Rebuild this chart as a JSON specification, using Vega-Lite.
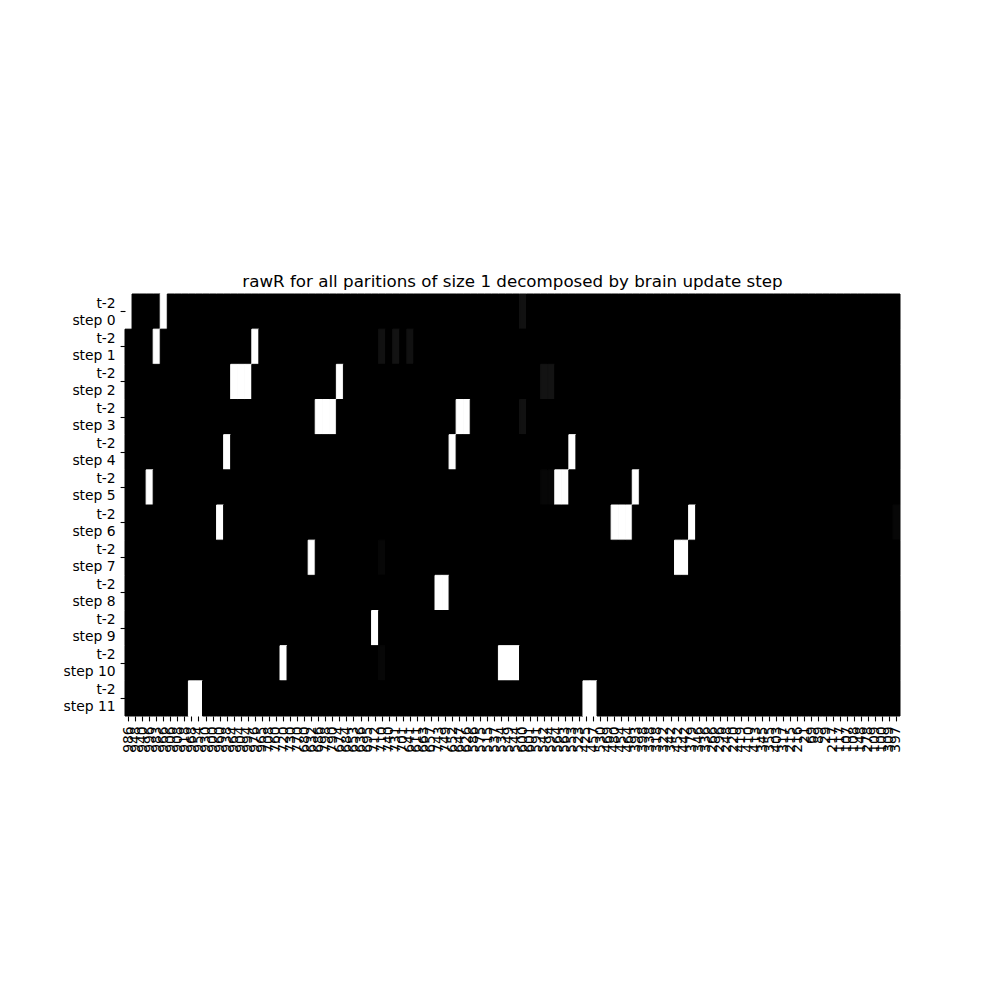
{
"$schema": "https://vega.github.io/schema/vega-lite/v6.json",
"autosize": {"type": "none"},
"padding": {"left": 125, "top": 294, "right": 100, "bottom": 284},
"width": 775,
"height": 422,
"background": "white",
"title": {"text": "rawR for all paritions of size 1 decomposed by brain update step", "font": "DejaVu Sans", "fontSize": 16.7, "fontWeight": "normal", "color": "black", "offset": 3, "anchor": "middle"},
"config": {"view": {"stroke": null, "fill": "black"}},
"data": {"values": [
{"c":"986","s":0,"v":1},{"c":"948","s":0,"v":0},{"c":"940","s":0,"v":0},{"c":"996","s":0,"v":0},{"c":"983","s":0,"v":0},{"c":"966","s":0,"v":1},{"c":"906","s":0,"v":0},{"c":"908","s":0,"v":0},{"c":"918","s":0,"v":0},{"c":"968","s":0,"v":0},
{"c":"954","s":0,"v":0},{"c":"930","s":0,"v":0},{"c":"900","s":0,"v":0},{"c":"960","s":0,"v":0},{"c":"938","s":0,"v":0},{"c":"964","s":0,"v":0},{"c":"904","s":0,"v":0},{"c":"994","s":0,"v":0},{"c":"976","s":0,"v":0},{"c":"965","s":0,"v":0},
{"c":"708","s":0,"v":0},{"c":"760","s":0,"v":0},{"c":"720","s":0,"v":0},{"c":"730","s":0,"v":0},{"c":"770","s":0,"v":0},{"c":"680","s":0,"v":0},{"c":"632","s":0,"v":0},{"c":"686","s":0,"v":0},{"c":"798","s":0,"v":0},{"c":"790","s":0,"v":0},
{"c":"674","s":0,"v":0},{"c":"684","s":0,"v":0},{"c":"653","s":0,"v":0},{"c":"636","s":0,"v":0},{"c":"695","s":0,"v":0},{"c":"712","s":0,"v":0},{"c":"710","s":0,"v":0},{"c":"740","s":0,"v":0},{"c":"731","s":0,"v":0},{"c":"701","s":0,"v":0},
{"c":"641","s":0,"v":0},{"c":"611","s":0,"v":0},{"c":"663","s":0,"v":0},{"c":"657","s":0,"v":0},{"c":"743","s":0,"v":0},{"c":"749","s":0,"v":0},{"c":"652","s":0,"v":0},{"c":"647","s":0,"v":0},{"c":"626","s":0,"v":0},{"c":"586","s":0,"v":0},
{"c":"575","s":0,"v":0},{"c":"515","s":0,"v":0},{"c":"537","s":0,"v":0},{"c":"534","s":0,"v":0},{"c":"549","s":0,"v":0},{"c":"544","s":0,"v":0},{"c":"600","s":0,"v":0.05},{"c":"601","s":0,"v":0},{"c":"591","s":0,"v":0},{"c":"542","s":0,"v":0},
{"c":"594","s":0,"v":0},{"c":"564","s":0,"v":0},{"c":"563","s":0,"v":0},{"c":"553","s":0,"v":0},{"c":"523","s":0,"v":0},{"c":"425","s":0,"v":0},{"c":"457","s":0,"v":0},{"c":"530","s":0,"v":0},{"c":"469","s":0,"v":0},{"c":"480","s":0,"v":0},
{"c":"454","s":0,"v":0},{"c":"464","s":0,"v":0},{"c":"393","s":0,"v":0},{"c":"398","s":0,"v":0},{"c":"338","s":0,"v":0},{"c":"318","s":0,"v":0},{"c":"322","s":0,"v":0},{"c":"342","s":0,"v":0},{"c":"452","s":0,"v":0},{"c":"442","s":0,"v":0},
{"c":"379","s":0,"v":0},{"c":"346","s":0,"v":0},{"c":"336","s":0,"v":0},{"c":"266","s":0,"v":0},{"c":"296","s":0,"v":0},{"c":"248","s":0,"v":0},{"c":"220","s":0,"v":0},{"c":"419","s":0,"v":0},{"c":"410","s":0,"v":0},{"c":"413","s":0,"v":0},
{"c":"345","s":0,"v":0},{"c":"355","s":0,"v":0},{"c":"403","s":0,"v":0},{"c":"317","s":0,"v":0},{"c":"215","s":0,"v":0},{"c":"216","s":0,"v":0},{"c":"21","s":0,"v":0},{"c":"69","s":0,"v":0},{"c":"89","s":0,"v":0},{"c":"29","s":0,"v":0},
{"c":"217","s":0,"v":0},{"c":"117","s":0,"v":0},{"c":"107","s":0,"v":0},{"c":"108","s":0,"v":0},{"c":"148","s":0,"v":0},{"c":"278","s":0,"v":0},{"c":"109","s":0,"v":0},{"c":"100","s":0,"v":0},{"c":"309","s":0,"v":0},{"c":"397","s":0,"v":0},

{"c":"986","s":1,"v":0},{"c":"948","s":1,"v":0},{"c":"940","s":1,"v":0},{"c":"996","s":1,"v":0},{"c":"983","s":1,"v":1},{"c":"966","s":1,"v":0},{"c":"906","s":1,"v":0},{"c":"908","s":1,"v":0},{"c":"918","s":1,"v":0},{"c":"968","s":1,"v":0},
{"c":"954","s":1,"v":0},{"c":"930","s":1,"v":0},{"c":"900","s":1,"v":0},{"c":"960","s":1,"v":0},{"c":"938","s":1,"v":0},{"c":"964","s":1,"v":0},{"c":"904","s":1,"v":0},{"c":"994","s":1,"v":0},{"c":"976","s":1,"v":1},{"c":"965","s":1,"v":0},
{"c":"708","s":1,"v":0},{"c":"760","s":1,"v":0},{"c":"720","s":1,"v":0},{"c":"730","s":1,"v":0},{"c":"770","s":1,"v":0},{"c":"680","s":1,"v":0},{"c":"632","s":1,"v":0},{"c":"686","s":1,"v":0},{"c":"798","s":1,"v":0},{"c":"790","s":1,"v":0},
{"c":"674","s":1,"v":0},{"c":"684","s":1,"v":0},{"c":"653","s":1,"v":0},{"c":"636","s":1,"v":0},{"c":"695","s":1,"v":0},{"c":"712","s":1,"v":0},{"c":"710","s":1,"v":0.05},{"c":"740","s":1,"v":0},{"c":"731","s":1,"v":0.06},{"c":"701","s":1,"v":0},
{"c":"641","s":1,"v":0.05},{"c":"611","s":1,"v":0},{"c":"663","s":1,"v":0},{"c":"657","s":1,"v":0},{"c":"743","s":1,"v":0},{"c":"749","s":1,"v":0},{"c":"652","s":1,"v":0},{"c":"647","s":1,"v":0},{"c":"626","s":1,"v":0},{"c":"586","s":1,"v":0},
{"c":"575","s":1,"v":0},{"c":"515","s":1,"v":0},{"c":"537","s":1,"v":0},{"c":"534","s":1,"v":0},{"c":"549","s":1,"v":0},{"c":"544","s":1,"v":0},{"c":"600","s":1,"v":0},{"c":"601","s":1,"v":0},{"c":"591","s":1,"v":0},{"c":"542","s":1,"v":0},
{"c":"594","s":1,"v":0},{"c":"564","s":1,"v":0},{"c":"563","s":1,"v":0},{"c":"553","s":1,"v":0},{"c":"523","s":1,"v":0},{"c":"425","s":1,"v":0},{"c":"457","s":1,"v":0},{"c":"530","s":1,"v":0},{"c":"469","s":1,"v":0},{"c":"480","s":1,"v":0},
{"c":"454","s":1,"v":0},{"c":"464","s":1,"v":0},{"c":"393","s":1,"v":0},{"c":"398","s":1,"v":0},{"c":"338","s":1,"v":0},{"c":"318","s":1,"v":0},{"c":"322","s":1,"v":0},{"c":"342","s":1,"v":0},{"c":"452","s":1,"v":0},{"c":"442","s":1,"v":0},
{"c":"379","s":1,"v":0},{"c":"346","s":1,"v":0},{"c":"336","s":1,"v":0},{"c":"266","s":1,"v":0},{"c":"296","s":1,"v":0},{"c":"248","s":1,"v":0},{"c":"220","s":1,"v":0},{"c":"419","s":1,"v":0},{"c":"410","s":1,"v":0},{"c":"413","s":1,"v":0},
{"c":"345","s":1,"v":0},{"c":"355","s":1,"v":0},{"c":"403","s":1,"v":0},{"c":"317","s":1,"v":0},{"c":"215","s":1,"v":0},{"c":"216","s":1,"v":0},{"c":"21","s":1,"v":0},{"c":"69","s":1,"v":0},{"c":"89","s":1,"v":0},{"c":"29","s":1,"v":0},
{"c":"217","s":1,"v":0},{"c":"117","s":1,"v":0},{"c":"107","s":1,"v":0},{"c":"108","s":1,"v":0},{"c":"148","s":1,"v":0},{"c":"278","s":1,"v":0},{"c":"109","s":1,"v":0},{"c":"100","s":1,"v":0},{"c":"309","s":1,"v":0},{"c":"397","s":1,"v":0},

{"c":"986","s":2,"v":0},{"c":"948","s":2,"v":0},{"c":"940","s":2,"v":0},{"c":"996","s":2,"v":0},{"c":"983","s":2,"v":0},{"c":"966","s":2,"v":0},{"c":"906","s":2,"v":0},{"c":"908","s":2,"v":0},{"c":"918","s":2,"v":0},{"c":"968","s":2,"v":0},
{"c":"954","s":2,"v":0},{"c":"930","s":2,"v":0},{"c":"900","s":2,"v":0},{"c":"960","s":2,"v":0},{"c":"938","s":2,"v":0},{"c":"964","s":2,"v":1},{"c":"904","s":2,"v":1},{"c":"994","s":2,"v":1},{"c":"976","s":2,"v":0},{"c":"965","s":2,"v":0},
{"c":"708","s":2,"v":0},{"c":"760","s":2,"v":0},{"c":"720","s":2,"v":0},{"c":"730","s":2,"v":0},{"c":"770","s":2,"v":0},{"c":"680","s":2,"v":0},{"c":"632","s":2,"v":0},{"c":"686","s":2,"v":0},{"c":"798","s":2,"v":0},{"c":"790","s":2,"v":0},
{"c":"674","s":2,"v":1},{"c":"684","s":2,"v":0},{"c":"653","s":2,"v":0},{"c":"636","s":2,"v":0},{"c":"695","s":2,"v":0},{"c":"712","s":2,"v":0},{"c":"710","s":2,"v":0},{"c":"740","s":2,"v":0},{"c":"731","s":2,"v":0},{"c":"701","s":2,"v":0},
{"c":"641","s":2,"v":0},{"c":"611","s":2,"v":0},{"c":"663","s":2,"v":0},{"c":"657","s":2,"v":0},{"c":"743","s":2,"v":0},{"c":"749","s":2,"v":0},{"c":"652","s":2,"v":0},{"c":"647","s":2,"v":0},{"c":"626","s":2,"v":0},{"c":"586","s":2,"v":0},
{"c":"575","s":2,"v":0},{"c":"515","s":2,"v":0},{"c":"537","s":2,"v":0},{"c":"534","s":2,"v":0},{"c":"549","s":2,"v":0},{"c":"544","s":2,"v":0},{"c":"600","s":2,"v":0},{"c":"601","s":2,"v":0},{"c":"591","s":2,"v":0},{"c":"542","s":2,"v":0.06},
{"c":"594","s":2,"v":0.06},{"c":"564","s":2,"v":0},{"c":"563","s":2,"v":0},{"c":"553","s":2,"v":0},{"c":"523","s":2,"v":0},{"c":"425","s":2,"v":0},{"c":"457","s":2,"v":0},{"c":"530","s":2,"v":0},{"c":"469","s":2,"v":0},{"c":"480","s":2,"v":0},
{"c":"454","s":2,"v":0},{"c":"464","s":2,"v":0},{"c":"393","s":2,"v":0},{"c":"398","s":2,"v":0},{"c":"338","s":2,"v":0},{"c":"318","s":2,"v":0},{"c":"322","s":2,"v":0},{"c":"342","s":2,"v":0},{"c":"452","s":2,"v":0},{"c":"442","s":2,"v":0},
{"c":"379","s":2,"v":0},{"c":"346","s":2,"v":0},{"c":"336","s":2,"v":0},{"c":"266","s":2,"v":0},{"c":"296","s":2,"v":0},{"c":"248","s":2,"v":0},{"c":"220","s":2,"v":0},{"c":"419","s":2,"v":0},{"c":"410","s":2,"v":0},{"c":"413","s":2,"v":0},
{"c":"345","s":2,"v":0},{"c":"355","s":2,"v":0},{"c":"403","s":2,"v":0},{"c":"317","s":2,"v":0},{"c":"215","s":2,"v":0},{"c":"216","s":2,"v":0},{"c":"21","s":2,"v":0},{"c":"69","s":2,"v":0},{"c":"89","s":2,"v":0},{"c":"29","s":2,"v":0},
{"c":"217","s":2,"v":0},{"c":"117","s":2,"v":0},{"c":"107","s":2,"v":0},{"c":"108","s":2,"v":0},{"c":"148","s":2,"v":0},{"c":"278","s":2,"v":0},{"c":"109","s":2,"v":0},{"c":"100","s":2,"v":0},{"c":"309","s":2,"v":0},{"c":"397","s":2,"v":0},

{"c":"986","s":3,"v":0},{"c":"948","s":3,"v":0},{"c":"940","s":3,"v":0},{"c":"996","s":3,"v":0},{"c":"983","s":3,"v":0},{"c":"966","s":3,"v":0},{"c":"906","s":3,"v":0},{"c":"908","s":3,"v":0},{"c":"918","s":3,"v":0},{"c":"968","s":3,"v":0},
{"c":"954","s":3,"v":0},{"c":"930","s":3,"v":0},{"c":"900","s":3,"v":0},{"c":"960","s":3,"v":0},{"c":"938","s":3,"v":0},{"c":"964","s":3,"v":0},{"c":"904","s":3,"v":0},{"c":"994","s":3,"v":0},{"c":"976","s":3,"v":0},{"c":"965","s":3,"v":0},
{"c":"708","s":3,"v":0},{"c":"760","s":3,"v":0},{"c":"720","s":3,"v":0},{"c":"730","s":3,"v":0},{"c":"770","s":3,"v":0},{"c":"680","s":3,"v":0},{"c":"632","s":3,"v":0},{"c":"686","s":3,"v":1},{"c":"798","s":3,"v":1},{"c":"790","s":3,"v":1},
{"c":"674","s":3,"v":0},{"c":"684","s":3,"v":0},{"c":"653","s":3,"v":0},{"c":"636","s":3,"v":0},{"c":"695","s":3,"v":0},{"c":"712","s":3,"v":0},{"c":"710","s":3,"v":0},{"c":"740","s":3,"v":0},{"c":"731","s":3,"v":0},{"c":"701","s":3,"v":0},
{"c":"641","s":3,"v":0},{"c":"611","s":3,"v":0},{"c":"663","s":3,"v":0},{"c":"657","s":3,"v":0},{"c":"743","s":3,"v":0},{"c":"749","s":3,"v":0},{"c":"652","s":3,"v":0},{"c":"647","s":3,"v":1},{"c":"626","s":3,"v":1},{"c":"586","s":3,"v":0},
{"c":"575","s":3,"v":0},{"c":"515","s":3,"v":0},{"c":"537","s":3,"v":0},{"c":"534","s":3,"v":0},{"c":"549","s":3,"v":0},{"c":"544","s":3,"v":0},{"c":"600","s":3,"v":0.05},{"c":"601","s":3,"v":0},{"c":"591","s":3,"v":0},{"c":"542","s":3,"v":0},
{"c":"594","s":3,"v":0},{"c":"564","s":3,"v":0},{"c":"563","s":3,"v":0},{"c":"553","s":3,"v":0},{"c":"523","s":3,"v":0},{"c":"425","s":3,"v":0},{"c":"457","s":3,"v":0},{"c":"530","s":3,"v":0},{"c":"469","s":3,"v":0},{"c":"480","s":3,"v":0},
{"c":"454","s":3,"v":0},{"c":"464","s":3,"v":0},{"c":"393","s":3,"v":0},{"c":"398","s":3,"v":0},{"c":"338","s":3,"v":0},{"c":"318","s":3,"v":0},{"c":"322","s":3,"v":0},{"c":"342","s":3,"v":0},{"c":"452","s":3,"v":0},{"c":"442","s":3,"v":0},
{"c":"379","s":3,"v":0},{"c":"346","s":3,"v":0},{"c":"336","s":3,"v":0},{"c":"266","s":3,"v":0},{"c":"296","s":3,"v":0},{"c":"248","s":3,"v":0},{"c":"220","s":3,"v":0},{"c":"419","s":3,"v":0},{"c":"410","s":3,"v":0},{"c":"413","s":3,"v":0},
{"c":"345","s":3,"v":0},{"c":"355","s":3,"v":0},{"c":"403","s":3,"v":0},{"c":"317","s":3,"v":0},{"c":"215","s":3,"v":0},{"c":"216","s":3,"v":0},{"c":"21","s":3,"v":0},{"c":"69","s":3,"v":0},{"c":"89","s":3,"v":0},{"c":"29","s":3,"v":0},
{"c":"217","s":3,"v":0},{"c":"117","s":3,"v":0},{"c":"107","s":3,"v":0},{"c":"108","s":3,"v":0},{"c":"148","s":3,"v":0},{"c":"278","s":3,"v":0},{"c":"109","s":3,"v":0},{"c":"100","s":3,"v":0},{"c":"309","s":3,"v":0},{"c":"397","s":3,"v":0},

{"c":"986","s":4,"v":0},{"c":"948","s":4,"v":0},{"c":"940","s":4,"v":0},{"c":"996","s":4,"v":0},{"c":"983","s":4,"v":0},{"c":"966","s":4,"v":0},{"c":"906","s":4,"v":0},{"c":"908","s":4,"v":0},{"c":"918","s":4,"v":0},{"c":"968","s":4,"v":0},
{"c":"954","s":4,"v":0},{"c":"930","s":4,"v":0},{"c":"900","s":4,"v":0},{"c":"960","s":4,"v":0},{"c":"938","s":4,"v":1},{"c":"964","s":4,"v":0},{"c":"904","s":4,"v":0},{"c":"994","s":4,"v":0},{"c":"976","s":4,"v":0},{"c":"965","s":4,"v":0},
{"c":"708","s":4,"v":0},{"c":"760","s":4,"v":0},{"c":"720","s":4,"v":0},{"c":"730","s":4,"v":0},{"c":"770","s":4,"v":0},{"c":"680","s":4,"v":0},{"c":"632","s":4,"v":0},{"c":"686","s":4,"v":0},{"c":"798","s":4,"v":0},{"c":"790","s":4,"v":0},
{"c":"674","s":4,"v":0},{"c":"684","s":4,"v":0},{"c":"653","s":4,"v":0},{"c":"636","s":4,"v":0},{"c":"695","s":4,"v":0},{"c":"712","s":4,"v":0},{"c":"710","s":4,"v":0},{"c":"740","s":4,"v":0},{"c":"731","s":4,"v":0},{"c":"701","s":4,"v":0},
{"c":"641","s":4,"v":0},{"c":"611","s":4,"v":0},{"c":"663","s":4,"v":0},{"c":"657","s":4,"v":0},{"c":"743","s":4,"v":0},{"c":"749","s":4,"v":0},{"c":"652","s":4,"v":1},{"c":"647","s":4,"v":0},{"c":"626","s":4,"v":0},{"c":"586","s":4,"v":0},
{"c":"575","s":4,"v":0},{"c":"515","s":4,"v":0},{"c":"537","s":4,"v":0},{"c":"534","s":4,"v":0},{"c":"549","s":4,"v":0},{"c":"544","s":4,"v":0},{"c":"600","s":4,"v":0},{"c":"601","s":4,"v":0},{"c":"591","s":4,"v":0},{"c":"542","s":4,"v":0},
{"c":"594","s":4,"v":0},{"c":"564","s":4,"v":0},{"c":"563","s":4,"v":0},{"c":"553","s":4,"v":1},{"c":"523","s":4,"v":0},{"c":"425","s":4,"v":0},{"c":"457","s":4,"v":0},{"c":"530","s":4,"v":0},{"c":"469","s":4,"v":0},{"c":"480","s":4,"v":0},
{"c":"454","s":4,"v":0},{"c":"464","s":4,"v":0},{"c":"393","s":4,"v":0},{"c":"398","s":4,"v":0},{"c":"338","s":4,"v":0},{"c":"318","s":4,"v":0},{"c":"322","s":4,"v":0},{"c":"342","s":4,"v":0},{"c":"452","s":4,"v":0},{"c":"442","s":4,"v":0},
{"c":"379","s":4,"v":0},{"c":"346","s":4,"v":0},{"c":"336","s":4,"v":0},{"c":"266","s":4,"v":0},{"c":"296","s":4,"v":0},{"c":"248","s":4,"v":0},{"c":"220","s":4,"v":0},{"c":"419","s":4,"v":0},{"c":"410","s":4,"v":0},{"c":"413","s":4,"v":0},
{"c":"345","s":4,"v":0},{"c":"355","s":4,"v":0},{"c":"403","s":4,"v":0},{"c":"317","s":4,"v":0},{"c":"215","s":4,"v":0},{"c":"216","s":4,"v":0},{"c":"21","s":4,"v":0},{"c":"69","s":4,"v":0},{"c":"89","s":4,"v":0},{"c":"29","s":4,"v":0},
{"c":"217","s":4,"v":0},{"c":"117","s":4,"v":0},{"c":"107","s":4,"v":0},{"c":"108","s":4,"v":0},{"c":"148","s":4,"v":0},{"c":"278","s":4,"v":0},{"c":"109","s":4,"v":0},{"c":"100","s":4,"v":0},{"c":"309","s":4,"v":0},{"c":"397","s":4,"v":0},

{"c":"986","s":5,"v":0},{"c":"948","s":5,"v":0},{"c":"940","s":5,"v":0},{"c":"996","s":5,"v":1},{"c":"983","s":5,"v":0},{"c":"966","s":5,"v":0},{"c":"906","s":5,"v":0},{"c":"908","s":5,"v":0},{"c":"918","s":5,"v":0},{"c":"968","s":5,"v":0},
{"c":"954","s":5,"v":0},{"c":"930","s":5,"v":0},{"c":"900","s":5,"v":0},{"c":"960","s":5,"v":0},{"c":"938","s":5,"v":0},{"c":"964","s":5,"v":0},{"c":"904","s":5,"v":0},{"c":"994","s":5,"v":0},{"c":"976","s":5,"v":0},{"c":"965","s":5,"v":0},
{"c":"708","s":5,"v":0},{"c":"760","s":5,"v":0},{"c":"720","s":5,"v":0},{"c":"730","s":5,"v":0},{"c":"770","s":5,"v":0},{"c":"680","s":5,"v":0},{"c":"632","s":5,"v":0},{"c":"686","s":5,"v":0},{"c":"798","s":5,"v":0},{"c":"790","s":5,"v":0},
{"c":"674","s":5,"v":0},{"c":"684","s":5,"v":0},{"c":"653","s":5,"v":0},{"c":"636","s":5,"v":0},{"c":"695","s":5,"v":0},{"c":"712","s":5,"v":0},{"c":"710","s":5,"v":0},{"c":"740","s":5,"v":0},{"c":"731","s":5,"v":0},{"c":"701","s":5,"v":0},
{"c":"641","s":5,"v":0},{"c":"611","s":5,"v":0},{"c":"663","s":5,"v":0},{"c":"657","s":5,"v":0},{"c":"743","s":5,"v":0},{"c":"749","s":5,"v":0},{"c":"652","s":5,"v":0},{"c":"647","s":5,"v":0},{"c":"626","s":5,"v":0},{"c":"586","s":5,"v":0},
{"c":"575","s":5,"v":0},{"c":"515","s":5,"v":0},{"c":"537","s":5,"v":0},{"c":"534","s":5,"v":0},{"c":"549","s":5,"v":0},{"c":"544","s":5,"v":0},{"c":"600","s":5,"v":0},{"c":"601","s":5,"v":0},{"c":"591","s":5,"v":0},{"c":"542","s":5,"v":0.02},
{"c":"594","s":5,"v":0.02},{"c":"564","s":5,"v":1},{"c":"563","s":5,"v":1},{"c":"553","s":5,"v":0},{"c":"523","s":5,"v":0},{"c":"425","s":5,"v":0},{"c":"457","s":5,"v":0},{"c":"530","s":5,"v":0},{"c":"469","s":5,"v":0},{"c":"480","s":5,"v":0},
{"c":"454","s":5,"v":0},{"c":"464","s":5,"v":0},{"c":"393","s":5,"v":1},{"c":"398","s":5,"v":0},{"c":"338","s":5,"v":0},{"c":"318","s":5,"v":0},{"c":"322","s":5,"v":0},{"c":"342","s":5,"v":0},{"c":"452","s":5,"v":0},{"c":"442","s":5,"v":0},
{"c":"379","s":5,"v":0},{"c":"346","s":5,"v":0},{"c":"336","s":5,"v":0},{"c":"266","s":5,"v":0},{"c":"296","s":5,"v":0},{"c":"248","s":5,"v":0},{"c":"220","s":5,"v":0},{"c":"419","s":5,"v":0},{"c":"410","s":5,"v":0},{"c":"413","s":5,"v":0},
{"c":"345","s":5,"v":0},{"c":"355","s":5,"v":0},{"c":"403","s":5,"v":0},{"c":"317","s":5,"v":0},{"c":"215","s":5,"v":0},{"c":"216","s":5,"v":0},{"c":"21","s":5,"v":0},{"c":"69","s":5,"v":0},{"c":"89","s":5,"v":0},{"c":"29","s":5,"v":0},
{"c":"217","s":5,"v":0},{"c":"117","s":5,"v":0},{"c":"107","s":5,"v":0},{"c":"108","s":5,"v":0},{"c":"148","s":5,"v":0},{"c":"278","s":5,"v":0},{"c":"109","s":5,"v":0},{"c":"100","s":5,"v":0},{"c":"309","s":5,"v":0},{"c":"397","s":5,"v":0},

{"c":"986","s":6,"v":0},{"c":"948","s":6,"v":0},{"c":"940","s":6,"v":0},{"c":"996","s":6,"v":0},{"c":"983","s":6,"v":0},{"c":"966","s":6,"v":0},{"c":"906","s":6,"v":0},{"c":"908","s":6,"v":0},{"c":"918","s":6,"v":0},{"c":"968","s":6,"v":0},
{"c":"954","s":6,"v":0},{"c":"930","s":6,"v":0},{"c":"900","s":6,"v":0},{"c":"960","s":6,"v":1},{"c":"938","s":6,"v":0},{"c":"964","s":6,"v":0},{"c":"904","s":6,"v":0},{"c":"994","s":6,"v":0},{"c":"976","s":6,"v":0},{"c":"965","s":6,"v":0},
{"c":"708","s":6,"v":0},{"c":"760","s":6,"v":0},{"c":"720","s":6,"v":0},{"c":"730","s":6,"v":0},{"c":"770","s":6,"v":0},{"c":"680","s":6,"v":0},{"c":"632","s":6,"v":0},{"c":"686","s":6,"v":0},{"c":"798","s":6,"v":0},{"c":"790","s":6,"v":0},
{"c":"674","s":6,"v":0},{"c":"684","s":6,"v":0},{"c":"653","s":6,"v":0},{"c":"636","s":6,"v":0},{"c":"695","s":6,"v":0},{"c":"712","s":6,"v":0},{"c":"710","s":6,"v":0},{"c":"740","s":6,"v":0},{"c":"731","s":6,"v":0},{"c":"701","s":6,"v":0},
{"c":"641","s":6,"v":0},{"c":"611","s":6,"v":0},{"c":"663","s":6,"v":0},{"c":"657","s":6,"v":0},{"c":"743","s":6,"v":0},{"c":"749","s":6,"v":0},{"c":"652","s":6,"v":0},{"c":"647","s":6,"v":0},{"c":"626","s":6,"v":0},{"c":"586","s":6,"v":0},
{"c":"575","s":6,"v":0},{"c":"515","s":6,"v":0},{"c":"537","s":6,"v":0},{"c":"534","s":6,"v":0},{"c":"549","s":6,"v":0},{"c":"544","s":6,"v":0},{"c":"600","s":6,"v":0},{"c":"601","s":6,"v":0},{"c":"591","s":6,"v":0},{"c":"542","s":6,"v":0},
{"c":"594","s":6,"v":0},{"c":"564","s":6,"v":0},{"c":"563","s":6,"v":0},{"c":"553","s":6,"v":0},{"c":"523","s":6,"v":0},{"c":"425","s":6,"v":0},{"c":"457","s":6,"v":0},{"c":"530","s":6,"v":0},{"c":"469","s":6,"v":0},{"c":"480","s":6,"v":1},
{"c":"454","s":6,"v":1},{"c":"464","s":6,"v":1},{"c":"393","s":6,"v":0},{"c":"398","s":6,"v":0},{"c":"338","s":6,"v":0},{"c":"318","s":6,"v":0},{"c":"322","s":6,"v":0},{"c":"342","s":6,"v":0},{"c":"452","s":6,"v":0},{"c":"442","s":6,"v":0},
{"c":"379","s":6,"v":1},{"c":"346","s":6,"v":0},{"c":"336","s":6,"v":0},{"c":"266","s":6,"v":0},{"c":"296","s":6,"v":0},{"c":"248","s":6,"v":0},{"c":"220","s":6,"v":0},{"c":"419","s":6,"v":0},{"c":"410","s":6,"v":0},{"c":"413","s":6,"v":0},
{"c":"345","s":6,"v":0},{"c":"355","s":6,"v":0},{"c":"403","s":6,"v":0},{"c":"317","s":6,"v":0},{"c":"215","s":6,"v":0},{"c":"216","s":6,"v":0},{"c":"21","s":6,"v":0},{"c":"69","s":6,"v":0},{"c":"89","s":6,"v":0},{"c":"29","s":6,"v":0},
{"c":"217","s":6,"v":0},{"c":"117","s":6,"v":0},{"c":"107","s":6,"v":0},{"c":"108","s":6,"v":0},{"c":"148","s":6,"v":0},{"c":"278","s":6,"v":0},{"c":"109","s":6,"v":0},{"c":"100","s":6,"v":0},{"c":"309","s":6,"v":0},{"c":"397","s":6,"v":0.02},

{"c":"986","s":7,"v":0},{"c":"948","s":7,"v":0},{"c":"940","s":7,"v":0},{"c":"996","s":7,"v":0},{"c":"983","s":7,"v":0},{"c":"966","s":7,"v":0},{"c":"906","s":7,"v":0},{"c":"908","s":7,"v":0},{"c":"918","s":7,"v":0},{"c":"968","s":7,"v":0},
{"c":"954","s":7,"v":0},{"c":"930","s":7,"v":0},{"c":"900","s":7,"v":0},{"c":"960","s":7,"v":0},{"c":"938","s":7,"v":0},{"c":"964","s":7,"v":0},{"c":"904","s":7,"v":0},{"c":"994","s":7,"v":0},{"c":"976","s":7,"v":0},{"c":"965","s":7,"v":0},
{"c":"708","s":7,"v":0},{"c":"760","s":7,"v":0},{"c":"720","s":7,"v":0},{"c":"730","s":7,"v":0},{"c":"770","s":7,"v":0},{"c":"680","s":7,"v":0},{"c":"632","s":7,"v":1},{"c":"686","s":7,"v":0},{"c":"798","s":7,"v":0},{"c":"790","s":7,"v":0},
{"c":"674","s":7,"v":0},{"c":"684","s":7,"v":0},{"c":"653","s":7,"v":0},{"c":"636","s":7,"v":0},{"c":"695","s":7,"v":0},{"c":"712","s":7,"v":0},{"c":"710","s":7,"v":0.02},{"c":"740","s":7,"v":0},{"c":"731","s":7,"v":0},{"c":"701","s":7,"v":0},
{"c":"641","s":7,"v":0},{"c":"611","s":7,"v":0},{"c":"663","s":7,"v":0},{"c":"657","s":7,"v":0},{"c":"743","s":7,"v":0},{"c":"749","s":7,"v":0},{"c":"652","s":7,"v":0},{"c":"647","s":7,"v":0},{"c":"626","s":7,"v":0},{"c":"586","s":7,"v":0},
{"c":"575","s":7,"v":0},{"c":"515","s":7,"v":0},{"c":"537","s":7,"v":0},{"c":"534","s":7,"v":0},{"c":"549","s":7,"v":0},{"c":"544","s":7,"v":0},{"c":"600","s":7,"v":0},{"c":"601","s":7,"v":0},{"c":"591","s":7,"v":0},{"c":"542","s":7,"v":0},
{"c":"594","s":7,"v":0},{"c":"564","s":7,"v":0},{"c":"563","s":7,"v":0},{"c":"553","s":7,"v":0},{"c":"523","s":7,"v":0},{"c":"425","s":7,"v":0},{"c":"457","s":7,"v":0},{"c":"530","s":7,"v":0},{"c":"469","s":7,"v":0},{"c":"480","s":7,"v":0},
{"c":"454","s":7,"v":0},{"c":"464","s":7,"v":0},{"c":"393","s":7,"v":0},{"c":"398","s":7,"v":0},{"c":"338","s":7,"v":0},{"c":"318","s":7,"v":0},{"c":"322","s":7,"v":0},{"c":"342","s":7,"v":0},{"c":"452","s":7,"v":1},{"c":"442","s":7,"v":1},
{"c":"379","s":7,"v":0},{"c":"346","s":7,"v":0},{"c":"336","s":7,"v":0},{"c":"266","s":7,"v":0},{"c":"296","s":7,"v":0},{"c":"248","s":7,"v":0},{"c":"220","s":7,"v":0},{"c":"419","s":7,"v":0},{"c":"410","s":7,"v":0},{"c":"413","s":7,"v":0},
{"c":"345","s":7,"v":0},{"c":"355","s":7,"v":0},{"c":"403","s":7,"v":0},{"c":"317","s":7,"v":0},{"c":"215","s":7,"v":0},{"c":"216","s":7,"v":0},{"c":"21","s":7,"v":0},{"c":"69","s":7,"v":0},{"c":"89","s":7,"v":0},{"c":"29","s":7,"v":0},
{"c":"217","s":7,"v":0},{"c":"117","s":7,"v":0},{"c":"107","s":7,"v":0},{"c":"108","s":7,"v":0},{"c":"148","s":7,"v":0},{"c":"278","s":7,"v":0},{"c":"109","s":7,"v":0},{"c":"100","s":7,"v":0},{"c":"309","s":7,"v":0},{"c":"397","s":7,"v":0},

{"c":"986","s":8,"v":0},{"c":"948","s":8,"v":0},{"c":"940","s":8,"v":0},{"c":"996","s":8,"v":0},{"c":"983","s":8,"v":0},{"c":"966","s":8,"v":0},{"c":"906","s":8,"v":0},{"c":"908","s":8,"v":0},{"c":"918","s":8,"v":0},{"c":"968","s":8,"v":0},
{"c":"954","s":8,"v":0},{"c":"930","s":8,"v":0},{"c":"900","s":8,"v":0},{"c":"960","s":8,"v":0},{"c":"938","s":8,"v":0},{"c":"964","s":8,"v":0},{"c":"904","s":8,"v":0},{"c":"994","s":8,"v":0},{"c":"976","s":8,"v":0},{"c":"965","s":8,"v":0},
{"c":"708","s":8,"v":0},{"c":"760","s":8,"v":0},{"c":"720","s":8,"v":0},{"c":"730","s":8,"v":0},{"c":"770","s":8,"v":0},{"c":"680","s":8,"v":0},{"c":"632","s":8,"v":0},{"c":"686","s":8,"v":0},{"c":"798","s":8,"v":0},{"c":"790","s":8,"v":0},
{"c":"674","s":8,"v":0},{"c":"684","s":8,"v":0},{"c":"653","s":8,"v":0},{"c":"636","s":8,"v":0},{"c":"695","s":8,"v":0},{"c":"712","s":8,"v":0},{"c":"710","s":8,"v":0},{"c":"740","s":8,"v":0},{"c":"731","s":8,"v":0},{"c":"701","s":8,"v":0},
{"c":"641","s":8,"v":0},{"c":"611","s":8,"v":0},{"c":"663","s":8,"v":0},{"c":"657","s":8,"v":0},{"c":"743","s":8,"v":1},{"c":"749","s":8,"v":1},{"c":"652","s":8,"v":0},{"c":"647","s":8,"v":0},{"c":"626","s":8,"v":0},{"c":"586","s":8,"v":0},
{"c":"575","s":8,"v":0},{"c":"515","s":8,"v":0},{"c":"537","s":8,"v":0},{"c":"534","s":8,"v":0},{"c":"549","s":8,"v":0},{"c":"544","s":8,"v":0},{"c":"600","s":8,"v":0},{"c":"601","s":8,"v":0},{"c":"591","s":8,"v":0},{"c":"542","s":8,"v":0},
{"c":"594","s":8,"v":0},{"c":"564","s":8,"v":0},{"c":"563","s":8,"v":0},{"c":"553","s":8,"v":0},{"c":"523","s":8,"v":0},{"c":"425","s":8,"v":0},{"c":"457","s":8,"v":0},{"c":"530","s":8,"v":0},{"c":"469","s":8,"v":0},{"c":"480","s":8,"v":0},
{"c":"454","s":8,"v":0},{"c":"464","s":8,"v":0},{"c":"393","s":8,"v":0},{"c":"398","s":8,"v":0},{"c":"338","s":8,"v":0},{"c":"318","s":8,"v":0},{"c":"322","s":8,"v":0},{"c":"342","s":8,"v":0},{"c":"452","s":8,"v":0},{"c":"442","s":8,"v":0},
{"c":"379","s":8,"v":0},{"c":"346","s":8,"v":0},{"c":"336","s":8,"v":0},{"c":"266","s":8,"v":0},{"c":"296","s":8,"v":0},{"c":"248","s":8,"v":0},{"c":"220","s":8,"v":0},{"c":"419","s":8,"v":0},{"c":"410","s":8,"v":0},{"c":"413","s":8,"v":0},
{"c":"345","s":8,"v":0},{"c":"355","s":8,"v":0},{"c":"403","s":8,"v":0},{"c":"317","s":8,"v":0},{"c":"215","s":8,"v":0},{"c":"216","s":8,"v":0},{"c":"21","s":8,"v":0},{"c":"69","s":8,"v":0},{"c":"89","s":8,"v":0},{"c":"29","s":8,"v":0},
{"c":"217","s":8,"v":0},{"c":"117","s":8,"v":0},{"c":"107","s":8,"v":0},{"c":"108","s":8,"v":0},{"c":"148","s":8,"v":0},{"c":"278","s":8,"v":0},{"c":"109","s":8,"v":0},{"c":"100","s":8,"v":0},{"c":"309","s":8,"v":0},{"c":"397","s":8,"v":0},

{"c":"986","s":9,"v":0},{"c":"948","s":9,"v":0},{"c":"940","s":9,"v":0},{"c":"996","s":9,"v":0},{"c":"983","s":9,"v":0},{"c":"966","s":9,"v":0},{"c":"906","s":9,"v":0},{"c":"908","s":9,"v":0},{"c":"918","s":9,"v":0},{"c":"968","s":9,"v":0},
{"c":"954","s":9,"v":0},{"c":"930","s":9,"v":0},{"c":"900","s":9,"v":0},{"c":"960","s":9,"v":0},{"c":"938","s":9,"v":0},{"c":"964","s":9,"v":0},{"c":"904","s":9,"v":0},{"c":"994","s":9,"v":0},{"c":"976","s":9,"v":0},{"c":"965","s":9,"v":0},
{"c":"708","s":9,"v":0},{"c":"760","s":9,"v":0},{"c":"720","s":9,"v":0},{"c":"730","s":9,"v":0},{"c":"770","s":9,"v":0},{"c":"680","s":9,"v":0},{"c":"632","s":9,"v":0},{"c":"686","s":9,"v":0},{"c":"798","s":9,"v":0},{"c":"790","s":9,"v":0},
{"c":"674","s":9,"v":0},{"c":"684","s":9,"v":0},{"c":"653","s":9,"v":0},{"c":"636","s":9,"v":0},{"c":"695","s":9,"v":0},{"c":"712","s":9,"v":1},{"c":"710","s":9,"v":0},{"c":"740","s":9,"v":0},{"c":"731","s":9,"v":0},{"c":"701","s":9,"v":0},
{"c":"641","s":9,"v":0},{"c":"611","s":9,"v":0},{"c":"663","s":9,"v":0},{"c":"657","s":9,"v":0},{"c":"743","s":9,"v":0},{"c":"749","s":9,"v":0},{"c":"652","s":9,"v":0},{"c":"647","s":9,"v":0},{"c":"626","s":9,"v":0},{"c":"586","s":9,"v":0},
{"c":"575","s":9,"v":0},{"c":"515","s":9,"v":0},{"c":"537","s":9,"v":0},{"c":"534","s":9,"v":0},{"c":"549","s":9,"v":0},{"c":"544","s":9,"v":0},{"c":"600","s":9,"v":0},{"c":"601","s":9,"v":0},{"c":"591","s":9,"v":0},{"c":"542","s":9,"v":0},
{"c":"594","s":9,"v":0},{"c":"564","s":9,"v":0},{"c":"563","s":9,"v":0},{"c":"553","s":9,"v":0},{"c":"523","s":9,"v":0},{"c":"425","s":9,"v":0},{"c":"457","s":9,"v":0},{"c":"530","s":9,"v":0},{"c":"469","s":9,"v":0},{"c":"480","s":9,"v":0},
{"c":"454","s":9,"v":0},{"c":"464","s":9,"v":0},{"c":"393","s":9,"v":0},{"c":"398","s":9,"v":0},{"c":"338","s":9,"v":0},{"c":"318","s":9,"v":0},{"c":"322","s":9,"v":0},{"c":"342","s":9,"v":0},{"c":"452","s":9,"v":0},{"c":"442","s":9,"v":0},
{"c":"379","s":9,"v":0},{"c":"346","s":9,"v":0},{"c":"336","s":9,"v":0},{"c":"266","s":9,"v":0},{"c":"296","s":9,"v":0},{"c":"248","s":9,"v":0},{"c":"220","s":9,"v":0},{"c":"419","s":9,"v":0},{"c":"410","s":9,"v":0},{"c":"413","s":9,"v":0},
{"c":"345","s":9,"v":0},{"c":"355","s":9,"v":0},{"c":"403","s":9,"v":0},{"c":"317","s":9,"v":0},{"c":"215","s":9,"v":0},{"c":"216","s":9,"v":0},{"c":"21","s":9,"v":0},{"c":"69","s":9,"v":0},{"c":"89","s":9,"v":0},{"c":"29","s":9,"v":0},
{"c":"217","s":9,"v":0},{"c":"117","s":9,"v":0},{"c":"107","s":9,"v":0},{"c":"108","s":9,"v":0},{"c":"148","s":9,"v":0},{"c":"278","s":9,"v":0},{"c":"109","s":9,"v":0},{"c":"100","s":9,"v":0},{"c":"309","s":9,"v":0},{"c":"397","s":9,"v":0},

{"c":"986","s":10,"v":0},{"c":"948","s":10,"v":0},{"c":"940","s":10,"v":0},{"c":"996","s":10,"v":0},{"c":"983","s":10,"v":0},{"c":"966","s":10,"v":0},{"c":"906","s":10,"v":0},{"c":"908","s":10,"v":0},{"c":"918","s":10,"v":0},{"c":"968","s":10,"v":0},
{"c":"954","s":10,"v":0},{"c":"930","s":10,"v":0},{"c":"900","s":10,"v":0},{"c":"960","s":10,"v":0},{"c":"938","s":10,"v":0},{"c":"964","s":10,"v":0},{"c":"904","s":10,"v":0},{"c":"994","s":10,"v":0},{"c":"976","s":10,"v":0},{"c":"965","s":10,"v":0},
{"c":"708","s":10,"v":0},{"c":"760","s":10,"v":0},{"c":"720","s":10,"v":1},{"c":"730","s":10,"v":0},{"c":"770","s":10,"v":0},{"c":"680","s":10,"v":0},{"c":"632","s":10,"v":0},{"c":"686","s":10,"v":0},{"c":"798","s":10,"v":0},{"c":"790","s":10,"v":0},
{"c":"674","s":10,"v":0},{"c":"684","s":10,"v":0},{"c":"653","s":10,"v":0},{"c":"636","s":10,"v":0},{"c":"695","s":10,"v":0},{"c":"712","s":10,"v":0},{"c":"710","s":10,"v":0.02},{"c":"740","s":10,"v":0},{"c":"731","s":10,"v":0},{"c":"701","s":10,"v":0},
{"c":"641","s":10,"v":0},{"c":"611","s":10,"v":0},{"c":"663","s":10,"v":0},{"c":"657","s":10,"v":0},{"c":"743","s":10,"v":0},{"c":"749","s":10,"v":0},{"c":"652","s":10,"v":0},{"c":"647","s":10,"v":0},{"c":"626","s":10,"v":0},{"c":"586","s":10,"v":0},
{"c":"575","s":10,"v":0},{"c":"515","s":10,"v":0},{"c":"537","s":10,"v":0},{"c":"534","s":10,"v":1},{"c":"549","s":10,"v":1},{"c":"544","s":10,"v":1},{"c":"600","s":10,"v":0},{"c":"601","s":10,"v":0},{"c":"591","s":10,"v":0},{"c":"542","s":10,"v":0},
{"c":"594","s":10,"v":0},{"c":"564","s":10,"v":0},{"c":"563","s":10,"v":0},{"c":"553","s":10,"v":0},{"c":"523","s":10,"v":0},{"c":"425","s":10,"v":0},{"c":"457","s":10,"v":0},{"c":"530","s":10,"v":0},{"c":"469","s":10,"v":0},{"c":"480","s":10,"v":0},
{"c":"454","s":10,"v":0},{"c":"464","s":10,"v":0},{"c":"393","s":10,"v":0},{"c":"398","s":10,"v":0},{"c":"338","s":10,"v":0},{"c":"318","s":10,"v":0},{"c":"322","s":10,"v":0},{"c":"342","s":10,"v":0},{"c":"452","s":10,"v":0},{"c":"442","s":10,"v":0},
{"c":"379","s":10,"v":0},{"c":"346","s":10,"v":0},{"c":"336","s":10,"v":0},{"c":"266","s":10,"v":0},{"c":"296","s":10,"v":0},{"c":"248","s":10,"v":0},{"c":"220","s":10,"v":0},{"c":"419","s":10,"v":0},{"c":"410","s":10,"v":0},{"c":"413","s":10,"v":0},
{"c":"345","s":10,"v":0},{"c":"355","s":10,"v":0},{"c":"403","s":10,"v":0},{"c":"317","s":10,"v":0},{"c":"215","s":10,"v":0},{"c":"216","s":10,"v":0},{"c":"21","s":10,"v":0},{"c":"69","s":10,"v":0},{"c":"89","s":10,"v":0},{"c":"29","s":10,"v":0},
{"c":"217","s":10,"v":0},{"c":"117","s":10,"v":0},{"c":"107","s":10,"v":0},{"c":"108","s":10,"v":0},{"c":"148","s":10,"v":0},{"c":"278","s":10,"v":0},{"c":"109","s":10,"v":0},{"c":"100","s":10,"v":0},{"c":"309","s":10,"v":0},{"c":"397","s":10,"v":0},

{"c":"986","s":11,"v":0},{"c":"948","s":11,"v":0},{"c":"940","s":11,"v":0},{"c":"996","s":11,"v":0},{"c":"983","s":11,"v":0},{"c":"966","s":11,"v":0},{"c":"906","s":11,"v":0},{"c":"908","s":11,"v":0},{"c":"918","s":11,"v":0},{"c":"968","s":11,"v":1},
{"c":"954","s":11,"v":1},{"c":"930","s":11,"v":0},{"c":"900","s":11,"v":0},{"c":"960","s":11,"v":0},{"c":"938","s":11,"v":0},{"c":"964","s":11,"v":0},{"c":"904","s":11,"v":0},{"c":"994","s":11,"v":0},{"c":"976","s":11,"v":0},{"c":"965","s":11,"v":0},
{"c":"708","s":11,"v":0},{"c":"760","s":11,"v":0},{"c":"720","s":11,"v":0},{"c":"730","s":11,"v":0},{"c":"770","s":11,"v":0},{"c":"680","s":11,"v":0},{"c":"632","s":11,"v":0},{"c":"686","s":11,"v":0},{"c":"798","s":11,"v":0},{"c":"790","s":11,"v":0},
{"c":"674","s":11,"v":0},{"c":"684","s":11,"v":0},{"c":"653","s":11,"v":0},{"c":"636","s":11,"v":0},{"c":"695","s":11,"v":0},{"c":"712","s":11,"v":0},{"c":"710","s":11,"v":0},{"c":"740","s":11,"v":0},{"c":"731","s":11,"v":0},{"c":"701","s":11,"v":0},
{"c":"641","s":11,"v":0},{"c":"611","s":11,"v":0},{"c":"663","s":11,"v":0},{"c":"657","s":11,"v":0},{"c":"743","s":11,"v":0},{"c":"749","s":11,"v":0},{"c":"652","s":11,"v":0},{"c":"647","s":11,"v":0},{"c":"626","s":11,"v":0},{"c":"586","s":11,"v":0},
{"c":"575","s":11,"v":0},{"c":"515","s":11,"v":0},{"c":"537","s":11,"v":0},{"c":"534","s":11,"v":0},{"c":"549","s":11,"v":0},{"c":"544","s":11,"v":0},{"c":"600","s":11,"v":0},{"c":"601","s":11,"v":0},{"c":"591","s":11,"v":0},{"c":"542","s":11,"v":0},
{"c":"594","s":11,"v":0},{"c":"564","s":11,"v":0},{"c":"563","s":11,"v":0},{"c":"553","s":11,"v":0},{"c":"523","s":11,"v":0},{"c":"425","s":11,"v":1},{"c":"457","s":11,"v":1},{"c":"530","s":11,"v":0},{"c":"469","s":11,"v":0},{"c":"480","s":11,"v":0},
{"c":"454","s":11,"v":0},{"c":"464","s":11,"v":0},{"c":"393","s":11,"v":0},{"c":"398","s":11,"v":0},{"c":"338","s":11,"v":0},{"c":"318","s":11,"v":0},{"c":"322","s":11,"v":0},{"c":"342","s":11,"v":0},{"c":"452","s":11,"v":0},{"c":"442","s":11,"v":0},
{"c":"379","s":11,"v":0},{"c":"346","s":11,"v":0},{"c":"336","s":11,"v":0},{"c":"266","s":11,"v":0},{"c":"296","s":11,"v":0},{"c":"248","s":11,"v":0},{"c":"220","s":11,"v":0},{"c":"419","s":11,"v":0},{"c":"410","s":11,"v":0},{"c":"413","s":11,"v":0},
{"c":"345","s":11,"v":0},{"c":"355","s":11,"v":0},{"c":"403","s":11,"v":0},{"c":"317","s":11,"v":0},{"c":"215","s":11,"v":0},{"c":"216","s":11,"v":0},{"c":"21","s":11,"v":0},{"c":"69","s":11,"v":0},{"c":"89","s":11,"v":0},{"c":"29","s":11,"v":0},
{"c":"217","s":11,"v":0},{"c":"117","s":11,"v":0},{"c":"107","s":11,"v":0},{"c":"108","s":11,"v":0},{"c":"148","s":11,"v":0},{"c":"278","s":11,"v":0},{"c":"109","s":11,"v":0},{"c":"100","s":11,"v":0},{"c":"309","s":11,"v":0},{"c":"397","s":11,"v":0}
]},
"mark": {"type": "rect", "strokeWidth": 1},
"encoding": {
  "x": {"field": "c", "type": "nominal", "sort": null,
        "scale": {"paddingInner": 0, "paddingOuter": 0},
        "axis": {"title": null, "domain": false, "labelAngle": -90, "labelAlign": "right", "labelBaseline": "middle",
                 "labelFont": "DejaVu Sans", "labelFontSize": 13.9, "labelColor": "black",
                 "labelOverlap": false, "labelBound": false, "labelFlush": false, "labelPadding": 4.9,
                 "tickColor": "black", "tickSize": 4.9, "tickWidth": 1.1, "grid": false}},
  "y": {"field": "s", "type": "ordinal",
        "scale": {"paddingInner": 0, "paddingOuter": 0},
        "axis": {"title": null, "domain": false, "labelExpr": "['t-2', 'step ' + datum.label]",
                 "labelAlign": "right", "labelBaseline": "middle", "labelLineHeight": 17, "labelOffset": -8,
                 "labelFont": "DejaVu Sans", "labelFontSize": 13.9, "labelColor": "black",
                 "labelOverlap": false, "labelBound": false, "labelFlush": false, "labelPadding": 4.9,
                 "tickColor": "black", "tickSize": 4.9, "tickWidth": 1.1, "grid": false}},
  "color": {"field": "v", "type": "quantitative", "scale": {"type": "linear", "domain": [0, 1], "range": ["#000000", "#ffffff"]}, "legend": null},
  "stroke": {"field": "v", "type": "quantitative", "scale": {"type": "linear", "domain": [0, 1], "range": ["#000000", "#ffffff"]}, "legend": null}
}
}
